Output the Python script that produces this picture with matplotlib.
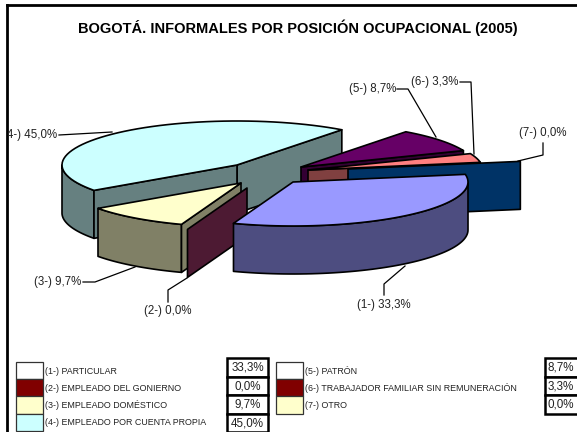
import numpy as np
import matplotlib
matplotlib.use('Agg')
import matplotlib.pyplot as plt
from matplotlib.patches import Polygon, Rectangle

plt.rcParams['font.family'] = ['Liberation Sans', 'DejaVu Sans']

TITLE = 'BOGOTÁ. INFORMALES POR POSICIÓN OCUPACIONAL (2005)'
categorias = ['PARTICULAR', 'EMPLEADO DEL GONIERNO', 'EMPLEADO DOMÉSTICO',
              'EMPLEADO POR CUENTA PROPIA', 'PATRÓN',
              'TRABAJADOR FAMILIAR SIN REMUNERACIÓN', 'OTRO']
valores = [33.3, 0.0, 9.7, 45.0, 8.7, 3.3, 0.0]

# colores de cada porcion: cara superior y cara lateral
top_col = ['#9999FF', '#993366', '#FFFFCC', '#CCFFFF', '#660066', '#FF8080', '#0066CC']
side_col = ['#4D4D80', '#4D1A33', '#808066', '#668080', '#330033', '#804040', '#003366']
legend_col = ['#FFFFFF', '#800000', '#FFFFCC', '#CCFFFF', '#FFFFFF', '#800000', '#FFFFCC']

# geometria del pastel 3D en pixeles
RX, RY, DEPTH = 175, 44, 48
START = 10
centros = [(293, 182), (247, 188), (241, 183), (237, 165), (301, 167), (308, 170), (348, 169)]
orden = [3, 4, 5, 6, 2, 1, 0]

# etiquetas: posicion, alineacion y linea guia
label_pos = [(384, 305, 'center'), (168, 311, 'center'), (81, 282, 'right'), (57, 135, 'right'),
             (396, 89, 'right'), (458, 82, 'right'), (519, 133, 'left')]
guias = [[(384, 295), (384, 284), (405, 266)],
         [(168, 302), (168, 290), (187, 278)],
         [(83, 282), (95, 282), (135, 267)],
         [(59, 135), (112, 132)],
         [(397, 89), (408, 89), (436, 137)],
         [(460, 82), (471, 82), (474, 154)],
         [(543, 143), (543, 155), (518, 161)]]


def punto(c, ang):
    a = np.radians(ang)
    return c[0] + RX * np.cos(a), c[1] - RY * np.sin(a)


def arco(c, a0, a1):
    angs = np.linspace(a0, a1, 60)
    return [punto(c, a) for a in angs]


def poly(pts, color):
    ax.add_patch(Polygon(pts, closed=True, facecolor=color, edgecolor='black',
                         linewidth=1.2, joinstyle='round'))


def cara(c, ang, color):
    p = punto(c, ang)
    poly([c, p, (p[0], p[1] + DEPTH), (c[0], c[1] + DEPTH)], color)


def pct(v):
    return f'{v:.1f}%'.replace('.', ',')


fig = plt.figure(figsize=(5.77, 4.32), dpi=100)
ax = fig.add_axes([0, 0, 1, 1])
ax.set_xlim(0, 577)
ax.set_ylim(432, 0)
ax.axis('off')

ax.text(298, 28, TITLE, fontsize=10.5, fontweight='bold', ha='center', va='center', color='black')

# angulos de cada porcion, en sentido horario
limites = START - np.cumsum([0] + valores) * 3.6

for i in orden:
    a0, a1 = limites[i], limites[i + 1]
    c = centros[i]
    if valores[i] == 0:
        cara(c, a0, side_col[i])
        continue
    # borde exterior visible (mitad frontal de la elipse)
    lo, hi = max(a1, -180), min(a0, 0)
    if hi > lo:
        arr = arco(c, hi, lo)
        abajo = [(x, y + DEPTH) for x, y in arr[::-1]]
        poly(arr + abajo, side_col[i])
    # caras de corte visibles
    if i == 3:
        cara(c, a1, side_col[i])
        cara(c, a0, side_col[i])
    elif i == 2:
        cara(c, a0, side_col[i])
    elif i in (4, 5):
        cara(c, a1, side_col[i])
    poly([c] + arco(c, a0, a1), top_col[i])

for i, g in enumerate(guias):
    xs, ys = zip(*g)
    ax.plot(xs, ys, color='black', lw=0.9)
    x, y, ha = label_pos[i]
    t = ax.text(x, y, f'({i + 1}-) {pct(valores[i])}', fontsize=8.3, ha=ha, va='center', color='#222222')
    t.set_clip_path(Rectangle((8, 0), 569, 432, transform=ax.transData))
    t.set_clip_on(True)

# marco exterior
ax.plot([7, 7], [432, 5], color='black', lw=2, solid_capstyle='projecting')
ax.plot([7, 577], [5, 5], color='black', lw=2, solid_capstyle='projecting')

# leyenda y tabla de datos
filas = [0, 0, 0, 0, 1, 1, 1]
sw_x = [16, 276]
tx_x = [45, 305]
tb_x = [227, 545]
tb_w = [41, 34]
sw_y0, sw_h = 362, 17.2
tb_y0, tb_h = 358, 18.5
cuenta = [0, 0]
for i, cat in enumerate(categorias):
    col = filas[i]
    n = cuenta[col]
    cuenta[col] += 1
    y = sw_y0 + n * sw_h
    ax.add_patch(Rectangle((sw_x[col], y), 27, sw_h, facecolor=legend_col[i], edgecolor='#333333', lw=0.9))
    ax.text(tx_x[col], y + sw_h / 2 + 0.5, f'({i + 1}-) {cat}', fontsize=6.4, ha='left', va='center', color='#222222')
    yt = tb_y0 + n * tb_h
    ax.add_patch(Rectangle((tb_x[col], yt), tb_w[col], tb_h, facecolor='white', edgecolor='black', lw=1.8))
    ax.text(tb_x[col] + tb_w[col] / 2 + (0 if col == 0 else -1), yt + tb_h / 2 + 0.5, pct(valores[i]),
            fontsize=8.4, ha='center', va='center', color='#222222')

fig.savefig('out.png', dpi=100)
